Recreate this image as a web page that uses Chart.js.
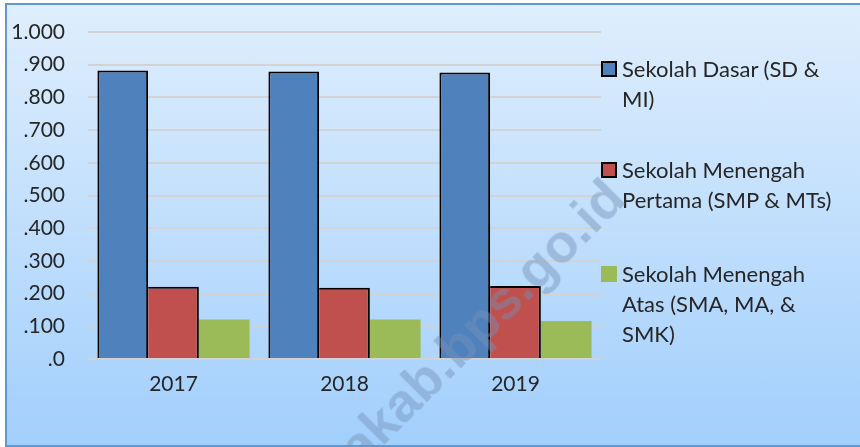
<!DOCTYPE html>
<html>
<head>
<meta charset="utf-8">
<script src="https://cdn.jsdelivr.net/npm/chart.js@4.4.0/dist/chart.umd.min.js"></script>
<style>
  html, body { margin: 0; padding: 0; background: #fff; }
  #wrap { position: relative; width: 860px; height: 447px; overflow: hidden; }
  #frame {
    position: absolute; left: 5px; top: 3px; width: 900px; height: 440px;
    border: 2px solid #5B9BD5;
    background: linear-gradient(#DFEEFD, #A2CFFC);
  }
  #chart { position: absolute; left: 0; top: 0; }
  .item { position: absolute; left: 600px; font-family: Lato, sans-serif; font-size: 22px; line-height: 30px; color: #262626; }
  .item .box { position: absolute; left: 1px; top: 7px; width: 16px; height: 16px; box-sizing: border-box; }
  .item .txt { position: absolute; left: 22px; top: 0; white-space: nowrap; }
  #mark {
    position: absolute; left: 328px; top: 436px; transform-origin: 0 0; transform: rotate(-45deg);
    font-family: "Liberation Sans", sans-serif; font-weight: bold; font-size: 54px; line-height: 1;
    color: rgba(115, 145, 185, 0.45); white-space: nowrap; pointer-events: none;
  }
</style>
</head>
<body>
<div id="wrap">
  <div id="frame"></div>
  <canvas id="chart" width="860" height="447"></canvas>
  <div id="legend"></div>
  <div id="mark">akab.bps.go.id</div>
</div>
<script>
const years = ['2017', '2018', '2019'];
const sdValues = [0.882, 0.879, 0.876];
const smpValues = [0.221, 0.218, 0.223];
const smaValues = [0.121, 0.121, 0.116];
const yTickLabels = ['.0', '.100', '.200', '.300', '.400', '.500', '.600', '.700', '.800', '.900', '1.000'];
const seriesLabels = [
  ['Sekolah Dasar (SD &', 'MI)'],
  ['Sekolah Menengah', 'Pertama (SMP & MTs)'],
  ['Sekolah Menengah', 'Atas (SMA, MA, &', 'SMK)']
];

const tickFont = { family: 'Lato', size: 21 };

const ctx = document.getElementById('chart').getContext('2d');
const chart = new Chart(ctx, {
  type: 'bar',
  data: {
    labels: years,
    datasets: [
      {
        label: seriesLabels[0].join(' '),
        data: sdValues,
        backgroundColor: '#4F81BD',
        borderColor: '#000',
        borderWidth: { top: 2, left: 2, right: 2, bottom: 0 },
      },
      {
        label: seriesLabels[1].join(' '),
        data: smpValues,
        backgroundColor: '#C0504D',
        borderColor: '#000',
        borderWidth: { top: 2, left: 0, right: 2, bottom: 0 },
      },
      {
        label: seriesLabels[2].join(' '),
        data: smaValues,
        backgroundColor: '#9BBB59',
        borderWidth: 0,
      },
    ],
  },
  options: {
    responsive: false,
    animation: false,
    layout: { padding: { left: 0, right: 259, top: 32, bottom: 0 } },
    plugins: { legend: { display: false }, tooltip: { enabled: false } },
    datasets: { bar: { barPercentage: 1, categoryPercentage: 0.89 } },
    scales: {
      x: {
        afterFit: (scale) => { scale.height = 88; },
        grid: { display: false },
        border: { display: false },
        ticks: { font: tickFont, color: '#262626', padding: 5 },
      },
      y: {
        min: 0,
        max: 1,
        afterFit: (scale) => {
          scale.width = 88;
          scale.paddingTop = 0;
          scale.paddingBottom = 0;
        },
        border: { display: false },
        grid: { color: 'rgba(210,210,210,0.95)', lineWidth: 2, drawTicks: false },
        ticks: {
          stepSize: 0.1,
          font: tickFont,
          color: '#262626',
          padding: 23,
          callback: (value, index) => yTickLabels[index],
        },
      },
    },
  },
});

// legend built from the datasets
const legendTops = [54, 155, 259];
const legend = document.getElementById('legend');
chart.data.datasets.forEach((ds, i) => {
  const item = document.createElement('div');
  item.className = 'item';
  item.style.top = legendTops[i] + 'px';
  const box = document.createElement('div');
  box.className = 'box';
  box.style.background = ds.backgroundColor;
  if (ds.borderColor) box.style.border = '2px solid ' + ds.borderColor;
  const txt = document.createElement('div');
  txt.className = 'txt';
  txt.innerHTML = seriesLabels[i].map((s) => s.replace(/&/g, '&amp;')).join('<br>');
  item.appendChild(box);
  item.appendChild(txt);
  legend.appendChild(item);
});
</script>
</body>
</html>
